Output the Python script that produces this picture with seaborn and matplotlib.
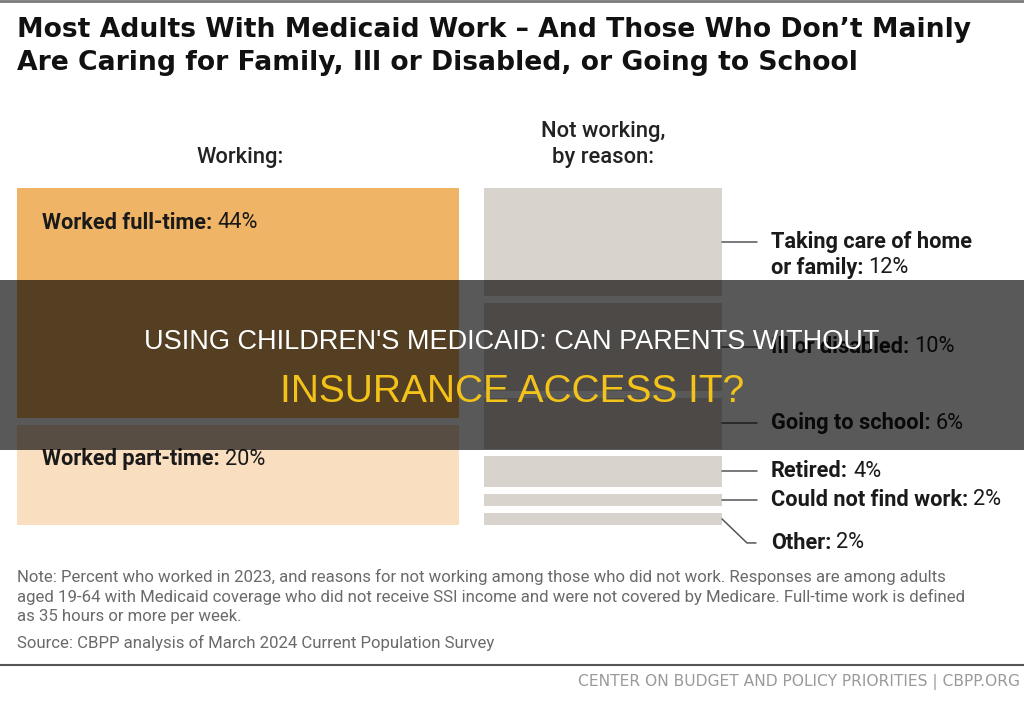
import numpy as np
import matplotlib.pyplot as plt
import matplotlib.transforms as mtransforms
from matplotlib.lines import Line2D
from matplotlib.patches import Rectangle
import seaborn as sns

W, H = 1024, 707

title_lines = ["Most Adults With Medicaid Work \u2013 And Those Who Don\u2019t Mainly",
               "Are Caring for Family, Ill or Disabled, or Going to School"]
work_cats = ["Worked full-time:", "Worked part-time:"]
work_vals = [44, 20]
work_colors = ["#F0B466", "#F9DEC0"]
reason_cats = ["Taking care of home\nor family:", "Ill or disabled:", "Going to school:",
               "Retired:", "Could not find work:", "Other:"]
reason_vals = [12, 10, 6, 4, 2, 2]
reason_color = "#D9D3CD"
note_lines = [
    "Note: Percent who worked in 2023, and reasons for not working among those who did not work. Responses are among adults",
    "aged 19-64 with Medicaid coverage who did not receive SSI income and were not covered by Medicare. Full-time work is defined",
    "as 35 hours or more per week.",
]
source = "Source: CBPP analysis of March 2024 Current Population Survey"
footer = "CENTER ON BUDGET AND POLICY PRIORITIES | CBPP.ORG"
banner_lines = ["USING CHILDREN'S MEDICAID: CAN PARENTS WITHOUT", "INSURANCE ACCESS IT?"]

sns.set_theme(style="white")
plt.rcParams["font.family"] = ["Roboto", "DejaVu Sans"]

fig = plt.figure(figsize=(W / 100, H / 100), dpi=100)
fig.patch.set_facecolor("white")


def fx(x):
    return x / W


def fy(y):
    return 1 - y / H


def px_axes(x0, x1, y0, y1):
    return fig.add_axes([fx(x0), fy(y1), (x1 - x0) / W, (y1 - y0) / H])


def stack(ax, vals, colors, gap_px, height_px):
    total = sum(vals)
    ax.set_xlim(-0.5, 0.5)
    ax.set_ylim(total, 0)
    ax.set_axis_off()
    gap = gap_px * total / height_px
    bottoms = np.concatenate([[0], np.cumsum(vals)[:-1]])
    heights = np.array(vals) - gap
    ax.bar(0, heights, bottom=bottoms, width=1, color=colors, linewidth=0)
    return bottoms, heights


# top rule + title
fig.add_artist(Line2D([0, 1], [fy(1), fy(1)], transform=fig.transFigure, color="#7a7a7a", lw=2))
for i, line in enumerate(title_lines):
    fig.text(fx(17), fy(30 + i * 33), line, fontsize=19.2, fontweight="bold",
             family=["DejaVu Sans"], color="#111111", va="center", ha="left")

fig.text(fx(240), fy(157), "Working:", fontsize=15.8, fontweight="medium", color="#222222",
         ha="center", va="center")
fig.text(fx(603), fy(131), "Not working,", fontsize=15.8, fontweight="medium", color="#222222",
         ha="center", va="center")
fig.text(fx(603), fy(157), "by reason:", fontsize=15.8, fontweight="medium", color="#222222",
         ha="center", va="center")

# left stack: working
ax_l = px_axes(17, 459, 188, 532)
b_l, h_l = stack(ax_l, work_vals, work_colors, 7, 344)
for cat, val, b in zip(work_cats, work_vals, b_l):
    t = ax_l.annotate(cat, xy=(-0.5, b), xytext=(25, -35), textcoords="offset pixels",
                      fontsize=15.7, fontweight="bold", color="#1a1a1a", va="center", ha="left")
    ax_l.annotate(f"{val}%", xy=(1, 0.5), xycoords=t, xytext=(5, 0), textcoords="offset pixels",
                  fontsize=15.7, color="#1a1a1a", va="center", ha="left")

# right stack: not working by reason
ax_r = px_axes(484, 722, 188, 532)
b_r, h_r = stack(ax_r, reason_vals, [reason_color] * len(reason_vals), 7, 344)
blend = mtransforms.blended_transform_factory(fig.transFigure, ax_r.transData)
drops = [0, 0, 0, 0, 0, 24]
for cat, val, b, h, d in zip(reason_cats, reason_vals, b_r, h_r, drops):
    c = b + h / 2
    if d == 0:
        ax_r.plot([fx(722), fx(757)], [c, c], transform=blend, color="#555555", lw=1.1, clip_on=False)
    else:
        p0 = blend.transform((fx(722), c))
        pts = np.array([p0, p0 + [25, -d], p0 + [34, -d]])
        fig_pts = fig.transFigure.inverted().transform(pts)
        fig.add_artist(Line2D(fig_pts[:, 0], fig_pts[:, 1], transform=fig.transFigure,
                              color="#555555", lw=1.1))
    lines = cat.split("\n")
    for k, line in enumerate(lines):
        tr = mtransforms.offset_copy(blend, fig=fig, x=0, y=-(d + k * 26), units="dots")
        t = ax_r.text(fx(771), c, line, transform=tr, fontsize=15.7, fontweight="bold",
                      color="#1a1a1a", va="center", ha="left")
    ax_r.annotate(f"{val}%", xy=(1, 0.5), xycoords=t, xytext=(5, 0), textcoords="offset pixels",
                  fontsize=15.7, color="#1a1a1a", va="center", ha="left")

# notes
for i, line in enumerate(note_lines):
    fig.text(fx(17), fy(577 + i * 20), line, fontsize=12.1, color="#6a6a6a", va="center", ha="left")
fig.text(fx(17), fy(643), source, fontsize=12.1, color="#6a6a6a", va="center", ha="left")

fig.add_artist(Line2D([0, 1], [fy(665), fy(665)], transform=fig.transFigure, color="#555555", lw=1.5))
fig.text(fx(1020), fy(682), footer, fontsize=11.2, family=["DejaVu Sans"],
         color="#9a9a9a", va="center", ha="right")

# dark overlay banner
fig.add_artist(Rectangle((0, fy(450)), 1, 170 / H, transform=fig.transFigure,
                         facecolor="black", alpha=0.65, linewidth=0, zorder=10))
fig.text(fx(512), fy(342), banner_lines[0], fontsize=19.5, family=["Liberation Sans", "DejaVu Sans"],
         color="white", ha="center", va="center", zorder=11)
fig.text(fx(512), fy(392), banner_lines[1], fontsize=28, family=["Liberation Sans", "DejaVu Sans"],
         color="#F4C31A", ha="center", va="center", zorder=11)

fig.savefig("out.png", dpi=100)
